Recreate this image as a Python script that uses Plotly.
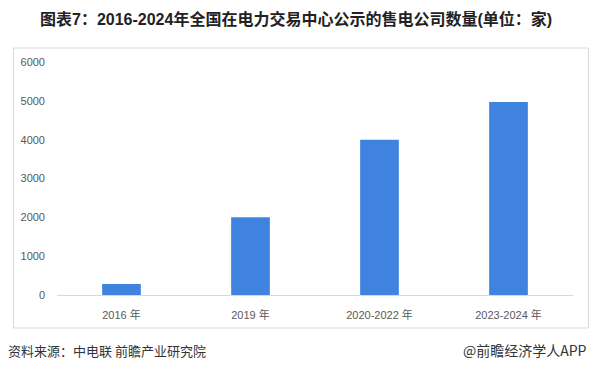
import plotly.graph_objects as go

categories = ["2016 年", "2019 年", "2020-2022 年", "2023-2024 年"]
values = [285, 2000, 4000, 4970]
y_ticks = [0, 1000, 2000, 3000, 4000, 5000, 6000]

title_text = "图表7：2016-2024年全国在电力交易中心公示的售电公司数量(单位：家)"
source_text = "资料来源：中电联 前瞻产业研究院"
brand_text = "@前瞻经济学人APP"

W, H = 591, 370
ml, mr, mt, mb = 57, 18, 62, 75
pw, ph = W - ml - mr, H - mt - mb

def px2x(px):
    return (px - ml) / pw

def py2y(py):
    return (H - mb - py) / ph

fig = go.Figure()
fig.add_trace(go.Bar(
    x=categories, y=values,
    marker=dict(color="#3f83df", line=dict(width=0)),
    width=0.30,
    hoverinfo="x+y",
))

font_main = "Liberation Sans, Noto Sans CJK SC, sans-serif"

fig.update_layout(
    width=W, height=H,
    margin=dict(l=ml, r=mr, t=mt, b=mb),
    paper_bgcolor="white", plot_bgcolor="white",
    showlegend=False,
    font=dict(family=font_main, size=11, color="#595959"),
    xaxis=dict(
        showgrid=False, showline=True, linecolor="#d9d9d9", linewidth=1,
        ticks="", tickfont=dict(size=11, color="#595959"),
        ticklabelstandoff=10, fixedrange=True,
    ),
    yaxis=dict(
        range=[0, 6000], tickvals=y_ticks, showgrid=False, zeroline=False,
        showline=False, ticks="", tickfont=dict(size=11, color="#595959"),
        ticklabelstandoff=11, fixedrange=True,
    ),
    shapes=[dict(
        type="rect", xref="paper", yref="paper",
        x0=px2x(13.5), x1=px2x(588.5), y0=py2y(328), y1=py2y(48),
        line=dict(color="#d9d9d9", width=1), fillcolor="rgba(0,0,0,0)",
        layer="below",
    )],
    annotations=[
        dict(text="<b>" + title_text + "</b>", xref="paper", yref="paper",
             x=px2x(296), y=py2y(19), xanchor="center", yanchor="middle",
             showarrow=False, font=dict(size=16, color="#222222", family=font_main)),
        dict(text=source_text, xref="paper", yref="paper",
             x=px2x(6), y=py2y(350), xanchor="left", yanchor="middle",
             showarrow=False, font=dict(size=13, color="#333333", family="Noto Sans CJK SC, sans-serif")),
        dict(text=brand_text, xref="paper", yref="paper",
             x=px2x(589), y=py2y(350), xanchor="right", yanchor="middle",
             showarrow=False, font=dict(size=14, color="#333333", family="Noto Sans CJK SC, sans-serif")),
    ],
)

fig.write_html("out.html")
